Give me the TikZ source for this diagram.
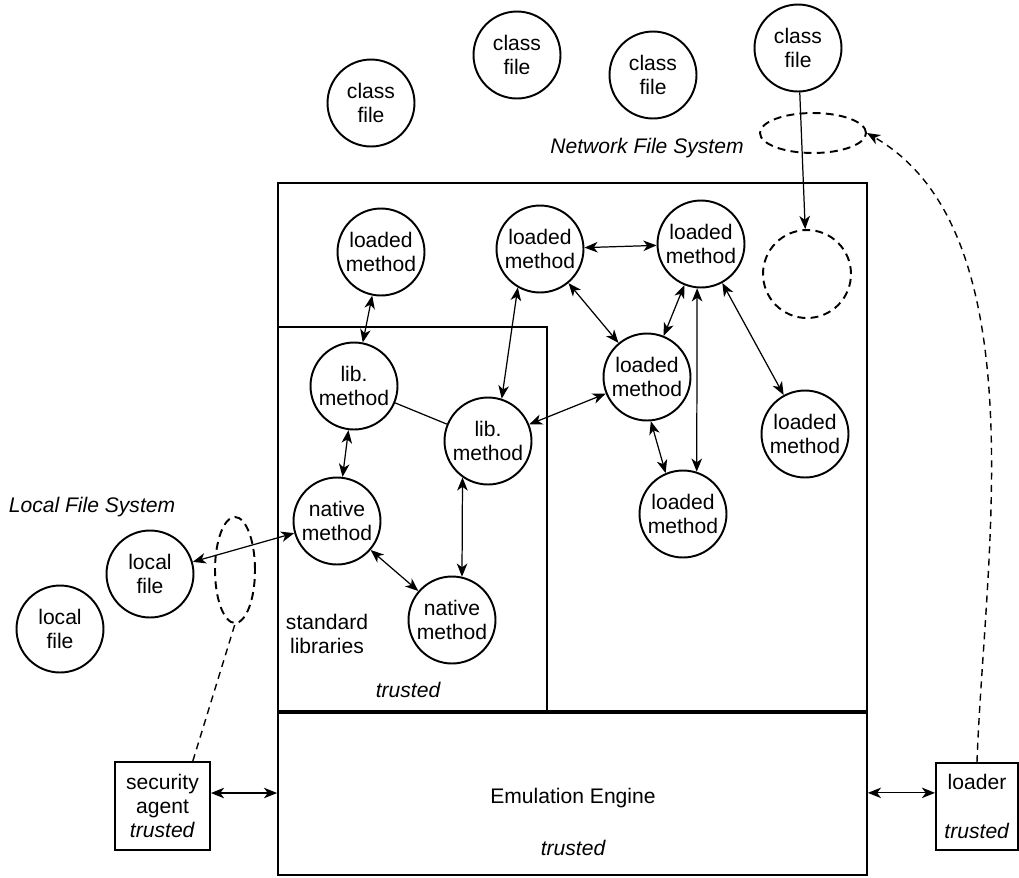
\documentclass[tikz,border=0pt]{standalone}
\usepackage{fontspec}
\setmainfont{Liberation Sans}
\usetikzlibrary{arrows.meta,shapes.geometric}

\begin{document}
\begin{tikzpicture}[x=0.02cm, y=-0.02cm, font=\fontsize{12}{13.8}\selectfont, >={Stealth[length=7.5pt,width=6pt,inset=2.2pt]},
  ring/.style={draw, circle, line width=1.1pt, minimum size=1.74cm, inner sep=0pt, align=center},
  ghost/.style={draw, line width=1.1pt, dash pattern=on 4.5pt off 3pt, inner sep=0pt},
  frame/.style={draw, line width=1.1pt, inner sep=0pt},
  link/.style={<->, line width=0.7pt},
  helper/.style={line width=0.8pt, dash pattern=on 4pt off 3pt}]
\useasboundingbox (0,0) rectangle (1019,877);
% outer frames
\node[frame, minimum width=11.78cm, minimum height=10.6cm] (arena) at (572.5,448) {};
\node[frame, minimum width=5.38cm, minimum height=7.72cm] (stdlib) at (412.5,520) {};
\node[frame, minimum width=11.78cm, minimum height=3.24cm] (engine) at (572.5,794) {};
\draw[line width=1.8pt] (engine.north west) -- (engine.north east);
\node (engname) at (573,798) {Emulation Engine};
\node (engtrust) at (573,848) {\itshape trusted};
\node[align=center] (stdname) at (327,634) {standard\\libraries};
\node (stdtrust) at (408,690) {\itshape trusted};
% file systems
\node[ring] (cfA) at (371,103) {class\\file};
\node[ring] (cfB) at (517,55) {class\\file};
\node[ring] (cfC) at (653,75) {class\\file};
\node[ring] (cfD) at (798,48) {class\\file};
\node[ghost, ellipse, minimum width=2.12cm, minimum height=0.8cm] (nfs) at (813,133) {};
\node (nfslabel) at (647,148) {\itshape Network File System};
\node[ring] (lfA) at (150,574) {local\\file};
\node[ring] (lfB) at (60,629) {local\\file};
\node[ghost, ellipse, minimum width=0.8cm, minimum height=2.12cm] (lfs) at (235,570) {};
\node (lfslabel) at (92,507) {\itshape Local File System};
% methods
\node[ring] (lmA) at (381,252) {loaded\\method};
\node[ring] (lmB) at (540,249) {loaded\\method};
\node[ring] (lmC) at (701,244) {loaded\\method};
\node[ghost, circle, minimum size=1.76cm] (slot) at (807,274) {};
\node[ring] (lmD) at (647,377) {loaded\\method};
\node[ring] (lmE) at (805,434) {loaded\\method};
\node[ring] (lmF) at (683,514) {loaded\\method};
\node[ring] (libA) at (354,386) {lib.\\method};
\node[ring] (libB) at (488,441) {lib.\\method};
\node[ring] (natA) at (337,521) {native\\method};
\node[ring] (natB) at (452,620) {native\\method};
% trusted helpers
\node[frame, align=center, minimum width=1.9cm, minimum height=1.76cm] (sec) at (162.5,806) {security\\agent\\\textit{trusted}};
\node[frame, align=center, minimum width=1.64cm, minimum height=1.74cm] (loader) at (977,806.5) {loader\\[0.5cm]\textit{trusted}};
% calls
\draw[link] (lmA) -- (libA);
\draw[link] (lmB) -- (lmC);
\draw[link] (lmB.240) -- (libB.72);
\draw[link] (lmB) -- (lmD);
\draw[link] (lmC) -- (lmD);
\draw[link] (lmC.265) -- (lmF.72);
\draw[link] (lmC) -- (lmE);
\draw[link] (lmD.275) -- (lmF.113);
\draw[link] (lmD) -- (libB);
\draw[line width=0.7pt] (libA) -- (libB);
\draw[link] (libA) -- (natA);
\draw[link] (libB.235) -- (natB.77);
\draw[link] (natA) -- (natB);
\draw[link] (lfA) -- (natA);
\draw[->, line width=0.7pt] (cfD) -- (slot);
\draw[link] (sec.15) -- (sec.15 -| engine.west);
\draw[link] (loader.162) -- (loader.162 -| engine.east);
\draw[helper, ->] (loader.north) to[out=88, in=-30, looseness=0.8] (nfs.east);
\draw[helper] (sec.56) -- (lfs.south);
\end{tikzpicture}
\end{document}
